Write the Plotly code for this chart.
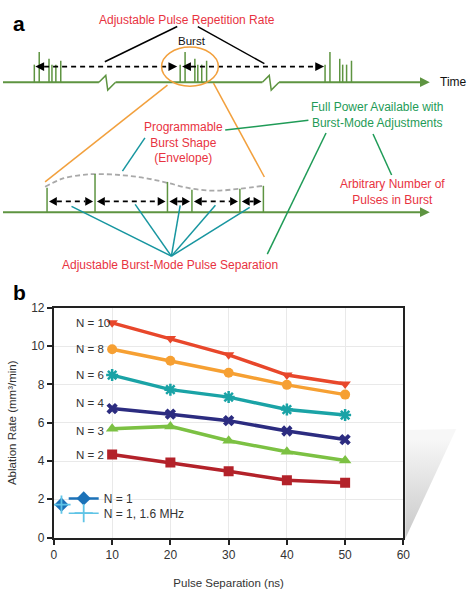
import plotly.graph_objects as go

# ---------------- Panel b data ----------------
pulse_sep = [10, 20, 30, 40, 50]
series_names = ["N = 10", "N = 8", "N = 6", "N = 4", "N = 3", "N = 2"]
n10 = [11.22, 10.40, 9.55, 8.49, 8.03]
n8 = [9.84, 9.24, 8.61, 7.98, 7.47]
n6 = [8.49, 7.73, 7.34, 6.69, 6.40]
n4 = [6.74, 6.45, 6.11, 5.57, 5.12]
n3 = [5.68, 5.81, 5.06, 4.48, 4.03]
n2 = [4.34, 3.92, 3.46, 3.00, 2.86]
n1_x = [1.3]
n1_y = [1.72]
n1_16_x = [1.3]
n1_16_y = [1.72]
x_ticks = [0, 10, 20, 30, 40, 50, 60]
y_ticks = [0, 2, 4, 6, 8, 10, 12]

# ---------------- Panel a schematic geometry (pixel units) ----------------
burst_starts = [32, 181, 329]
burst_offsets = [0, 5, 15, 18, 22, 27]
burst_heights = [18, 31, 24, 18, 18, 22]
env_pulse_x = [45, 94, 168, 193, 242, 266]
env_pulse_top = [185, 171, 179, 187, 186, 183]
env_curve_x = [43, 60, 80, 94, 120, 145, 168, 193, 217, 242, 266]
env_curve_y = [184, 176, 172, 171, 172, 175, 180, 186, 188, 186, 183]
sep_callout_src_x = [70, 135, 181, 217, 252]
sep_callout_src_y = [204, 202, 203, 203, 205]

W, H = 474, 611
RED = "#e8333f"
GREEN_T = "#1f9b57"
TEAL = "#1896a0"
ORANGE = "#f2a03d"
TL = "#5e9441"
FONT = "Liberation Sans"

colors = ["#e8472b", "#f6a033", "#1aa3a6", "#2c2c80", "#7cc143", "#b3222a"]
symbols = ["triangle-down", "circle", "asterisk-open", "x", "triangle-up", "square"]
msize = [10, 10, 10, 10, 11, 10]
label_shift = [0, 0, 0, 6, -2, 0]
data = [n10, n8, n6, n4, n3, n2]

fig = go.Figure()

# shadow decoration (on pixel axis)
fig.add_trace(go.Scatter(
    x=[411, 463, 411, 411], y=[433, 432, 544, 433], xaxis="x2", yaxis="y2",
    mode="lines", line=dict(width=0), fill="toself",
    fillgradient=dict(type="vertical", start=432, stop=544,
                      colorscale=[[0, "#f7f7f7"], [1, "#c2c2c2"]]),
    showlegend=False, hoverinfo="skip"))

for name, ys, c, s, ms in zip(series_names, data, colors, symbols, msize):
    mk = dict(symbol=s, size=ms, color=c)
    if s == "asterisk-open":
        mk["line"] = dict(color=c, width=2.5)
    fig.add_trace(go.Scatter(x=pulse_sep, y=ys, name=name, mode="lines+markers",
                             line=dict(color=c, width=3.5), marker=mk, showlegend=False))

fig.add_trace(go.Scatter(x=n1_x, y=n1_y, name="N = 1", mode="lines+markers",
                         line=dict(color="#1c72b8", width=2.5), legend="legend",
                         marker=dict(symbol="diamond", size=11, color="#1c72b8")))
fig.add_trace(go.Scatter(x=n1_16_x, y=n1_16_y, name="N = 1, 1.6 MHz", mode="lines+markers",
                         line=dict(color="#5fc4e6", width=1.5), legend="legend2",
                         marker=dict(symbol="cross-thin-open", size=13,
                                     line=dict(color="#5fc4e6", width=1.8))))

# envelope curve (panel a)
fig.add_trace(go.Scatter(x=env_curve_x, y=env_curve_y, xaxis="x2", yaxis="y2",
                         mode="lines", line=dict(color="#a9a9a9", width=1.8, dash="5px,3px",
                                                 shape="spline"),
                         showlegend=False, hoverinfo="skip"))

annotations = []
# N labels
for name, ys, sh in zip(series_names, data, label_shift):
    annotations.append(dict(x=3.5, y=ys[0], xref="x", yref="y", text=name, showarrow=False,
                            xanchor="left", yshift=sh,
                            font=dict(family=FONT, size=11.5, color="#333")))

shapes = []


def seg(x0, y0, x1, y1, color, width=1.5, dash=None):
    ln = dict(color=color, width=width)
    if dash:
        ln["dash"] = dash
    shapes.append(dict(type="line", xref="x2", yref="y2", x0=x0, y0=y0, x1=x1, y1=y1, line=ln))


def tri(tx, ty, d, L=9, h=4.5, color="black"):
    bx = tx - d * L
    shapes.append(dict(type="path", xref="x2", yref="y2",
                       path=f"M {tx},{ty} L {bx},{ty - h} L {bx},{ty + h} Z",
                       fillcolor=color, line=dict(width=0)))


def path(pts, color, width=1.5):
    p = "M " + " L ".join(f"{x},{y}" for x, y in pts)
    shapes.append(dict(type="path", xref="x2", yref="y2", path=p,
                       line=dict(color=color, width=width)))


# top timeline with breaks
BASE = 77
seg(0, BASE, 98, BASE, TL, 2)
path([(98, BASE), (105, 70), (107, 85), (115, BASE)], TL, 1.5)
seg(115, BASE, 265, BASE, TL, 2)
path([(265, BASE), (272, 70), (274, 85), (282, BASE)], TL, 1.5)
seg(282, BASE, 428, BASE, TL, 2)
tri(436, BASE, 1, 10, 5, TL)

for b in burst_starts:
    for o, hgt in zip(burst_offsets, burst_heights):
        seg(b + o, BASE, b + o, BASE - hgt, TL, 1.5)

# repetition rate arrows
DY = 61
seg(42, DY, 170, DY, "black", 1.8, "5px,4px")
tri(33, DY, -1)
tri(178, DY, 1)
seg(192, DY, 320, DY, "black", 1.8, "5px,4px")
tri(183, DY, -1)
tri(328, DY, 1)

# callout lines for repetition rate
seg(178, 20, 104, 56, "black", 1.5)
seg(199, 20, 267, 58, "black", 1.5)

# orange burst ellipse and zoom lines
shapes.append(dict(type="circle", xref="x2", yref="y2", x0=162, x1=220, y0=41, y1=81,
                   line=dict(color=ORANGE, width=1.5)))
seg(168, 80, 43, 179, ORANGE, 1.5)
seg(215, 78, 267, 174, ORANGE, 1.5)

# lower timeline
LB = 210
seg(0, LB, 428, LB, TL, 2)
tri(436, LB, 1, 10, 5, TL)
for px, top in zip(env_pulse_x, env_pulse_top):
    seg(px, LB, px, top, TL, 1.5)

# pulse separation arrows
AY = 199
for a, b in zip(env_pulse_x[:-1], env_pulse_x[1:]):
    tri(a + 2, AY, -1, 8, 4.5)
    tri(b - 2, AY, 1, 8, 4.5)
    if b - a > 22:
        seg(a + 10, AY, b - 10, AY, "black", 1.8, "5px,4px")

for sx, sy in zip(sep_callout_src_x, sep_callout_src_y):
    seg(sx, sy, 172, 255, TEAL, 1.5)
seg(145, 134, 122, 168, TEAL, 1.5)

# green callouts
seg(227, 126, 312, 116, GREEN_T, 1.5)
seg(330, 129, 270, 253, GREEN_T, 1.5)
seg(378, 130, 397, 172, GREEN_T, 1.5)


def txt(x, y, s, color, size=12, xanchor="center", bold=False):
    annotations.append(dict(x=x, y=y, xref="x2", yref="y2", text=f"<b>{s}</b>" if bold else s,
                            showarrow=False, xanchor=xanchor, yanchor="middle",
                            font=dict(family=FONT, size=size, color=color)))


txt(8, 17, "a", "black", 21, "left", True)
txt(8, 292, "b", "black", 21, "left", True)
txt(188, 13, "Adjustable Pulse Repetition Rate", RED, 12)
txt(193, 35, "Burst", "#111", 11.5)
txt(444, 77, "Time", "#111", 12, "left")
txt(184, 139, "Programmable<br>Burst Shape<br>(Envelope)", RED, 12)
txt(383, 111, "Full Power Available with<br>Burst-Mode Adjustments", GREEN_T, 12)
txt(398, 189, "Arbitrary Number of<br>Pulses in Burst", RED, 12)
txt(171, 264, "Adjustable Burst-Mode Pulse Separation", RED, 12)

leg_common = dict(xanchor="left", yanchor="middle", bgcolor="rgba(0,0,0,0)",
                  font=dict(family=FONT, size=12, color="#333"), itemwidth=30)

fig.update_layout(
    width=W, height=H, margin=dict(l=0, r=0, t=0, b=0),
    paper_bgcolor="white", plot_bgcolor="rgba(0,0,0,0)",
    font=dict(family=FONT, color="#333"),
    shapes=shapes, annotations=annotations,
    legend=dict(x=62 / W, y=1 - 503 / H, **leg_common),
    legend2=dict(x=62 / W, y=1 - 518 / H, **leg_common),
    xaxis=dict(domain=[52 / W, 409 / W], range=[0, 60], tickvals=x_ticks,
               showgrid=True, gridcolor="#e9e9e9", zeroline=False,
               showline=True, linecolor="#222", linewidth=2, mirror=True,
               ticks="outside", ticklen=5, tickcolor="#222", tickwidth=1.5,
               tickfont=dict(family=FONT, size=12, color="#333"),
               title=dict(text="Pulse Separation (ns)", standoff=18,
                          font=dict(family=FONT, size=11.5, color="#333"))),
    yaxis=dict(domain=[(H - 543) / H, (H - 308) / H], range=[0, 12], tickvals=y_ticks,
               showgrid=True, gridcolor="#e9e9e9", zeroline=False,
               showline=True, linecolor="#222", linewidth=2, mirror=True,
               ticks="outside", ticklen=5, tickcolor="#222", tickwidth=1.5,
               tickfont=dict(family=FONT, size=12, color="#333"),
               title=dict(text="Ablation Rate (mm³/min)", standoff=12,
                          font=dict(family=FONT, size=11.5, color="#333"))),
    xaxis2=dict(domain=[0, 1], range=[0, W], visible=False, anchor="y2", fixedrange=True),
    yaxis2=dict(domain=[0, 1], range=[H, 0], visible=False, anchor="x2", fixedrange=True),
)

fig.write_html("out.html", config={"displayModeBar": False},
               post_script="document.body.style.margin='0px';")
